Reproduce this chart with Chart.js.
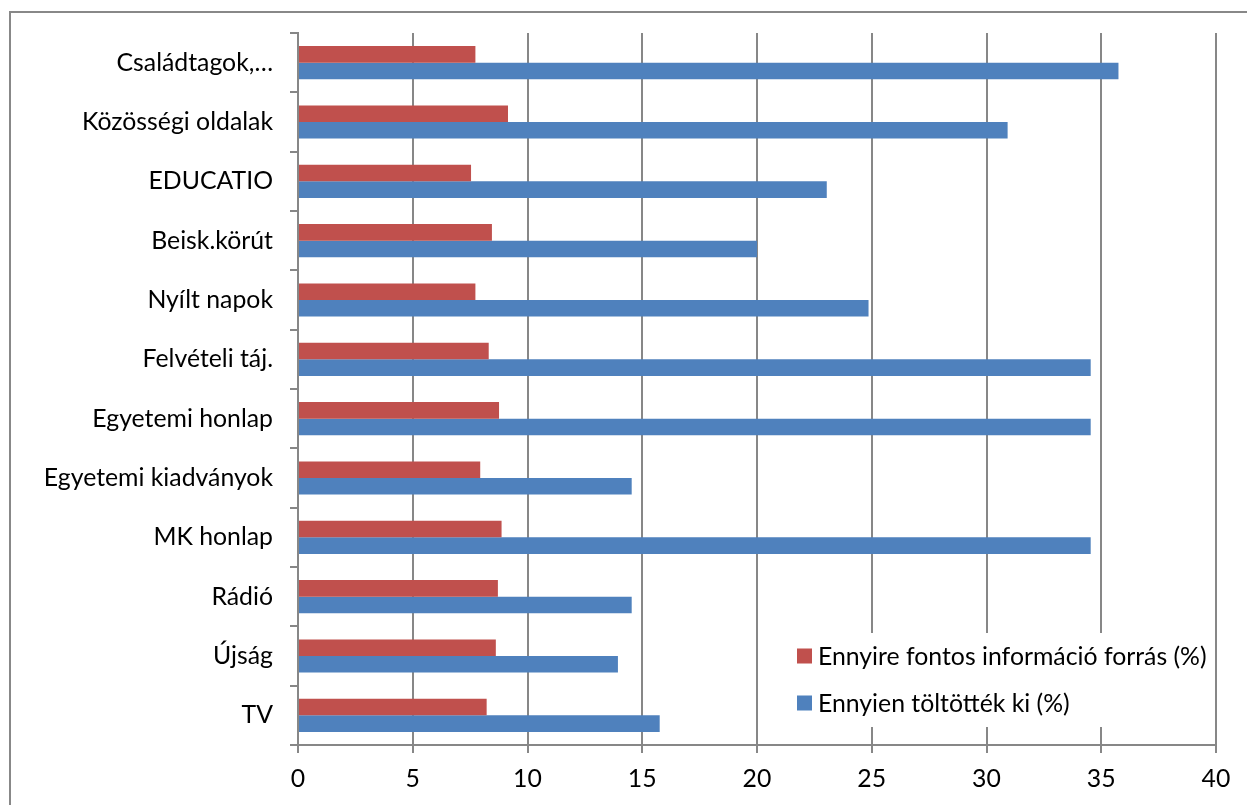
<!DOCTYPE html>
<html>
<head>
<meta charset="utf-8">
<script src="https://cdn.jsdelivr.net/npm/chart.js@4.4.1/dist/chart.umd.min.js"></script>
<style>
  html, body { margin: 0; padding: 0; background: #fff; overflow: hidden; }
  #wrap { position: relative; width: 1247px; height: 805px; }
  #frame { position: absolute; left: 9px; top: 11px; width: 1300px; height: 900px; border: 2px solid #888888; box-sizing: border-box; pointer-events: none; }
  canvas { position: absolute; left: 0; top: 0; }
</style>
</head>
<body>
<div id="wrap">
  <canvas id="c" width="1247" height="805"></canvas>
  <div id="frame"></div>
</div>
<script>
const categories = [
  "Családtagok,…", "Közösségi oldalak", "EDUCATIO", "Beisk.körút", "Nyílt napok",
  "Felvételi táj.", "Egyetemi honlap", "Egyetemi kiadványok", "MK honlap",
  "Rádió", "Újság", "TV"
];
const seriesNames = ["Ennyire fontos információ forrás (%)", "Ennyien töltötték ki (%)"];
const fontosValues = [7.73, 9.15, 7.54, 8.45, 7.73, 8.31, 8.76, 7.94, 8.87, 8.71, 8.62, 8.22];
const kitoltottValues = [35.75, 30.92, 23.04, 20.0, 24.86, 34.54, 34.54, 14.54, 34.54, 14.54, 13.94, 15.76];
const xTicks = [0, 5, 10, 15, 20, 25, 30, 35, 40];

const FONT_FAMILY = "Lato, 'Open Sans', sans-serif";
const FONT_SIZE = 24.8;
const GRID = "#878787";

const legendInside = {
  id: 'legendInside',
  afterDraw(chart) {
    const ctx = chart.ctx;
    const a = chart.chartArea;
    const x = a.right - 419;
    const rows = [a.bottom - 89, a.bottom - 42];
    ctx.save();
    ctx.fillStyle = '#fff';
    ctx.fillRect(a.right - 426, a.bottom - 112, 422, 94);
    ctx.font = FONT_SIZE + "px " + FONT_FAMILY;
    ctx.textBaseline = 'middle';
    ctx.textAlign = 'left';
    chart.data.datasets.forEach((ds, i) => {
      const cy = rows[i];
      ctx.fillStyle = ds.backgroundColor;
      ctx.fillRect(x, cy - 7.5, 15, 15);
      ctx.fillStyle = '#000';
      ctx.fillText(ds.label, x + 21, cy + 1);
    });
    ctx.restore();
  }
};

new Chart(document.getElementById('c'), {
  type: 'bar',
  data: {
    labels: categories,
    datasets: [
      { label: seriesNames[0], data: fontosValues, backgroundColor: '#C0504D', borderWidth: 0 },
      { label: seriesNames[1], data: kitoltottValues, backgroundColor: '#4F81BD', borderWidth: 0 }
    ]
  },
  options: {
    indexAxis: 'y',
    responsive: false,
    animation: false,
    devicePixelRatio: 1,
    categoryPercentage: 0.56,
    barPercentage: 1.0,
    layout: { padding: { top: 33, right: 31, left: 0, bottom: 0 } },
    plugins: {
      legend: { display: false },
      tooltip: { enabled: false }
    },
    scales: {
      x: {
        type: 'linear',
        min: 0, max: 40,
        afterBuildTicks(scale) { scale.ticks = xTicks.map(v => ({ value: v })); },
        afterFit(scale) { scale.height = 60; },
        grid: { color: GRID, lineWidth: 2, drawTicks: true, tickLength: 8, tickColor: GRID },
        border: { color: GRID, width: 2 },
        ticks: { color: '#000', font: { family: FONT_FAMILY, size: FONT_SIZE }, padding: 11, maxRotation: 0 }
      },
      y: {
        afterFit(scale) { scale.width = 298; },
        grid: { offset: true, drawOnChartArea: false, drawTicks: true, tickLength: 8, color: GRID, lineWidth: 2 },
        border: { color: GRID, width: 2 },
        ticks: { color: '#000', font: { family: FONT_FAMILY, size: FONT_SIZE }, padding: 17, autoSkip: false }
      }
    }
  },
  plugins: [legendInside]
});
</script>
</body>
</html>
